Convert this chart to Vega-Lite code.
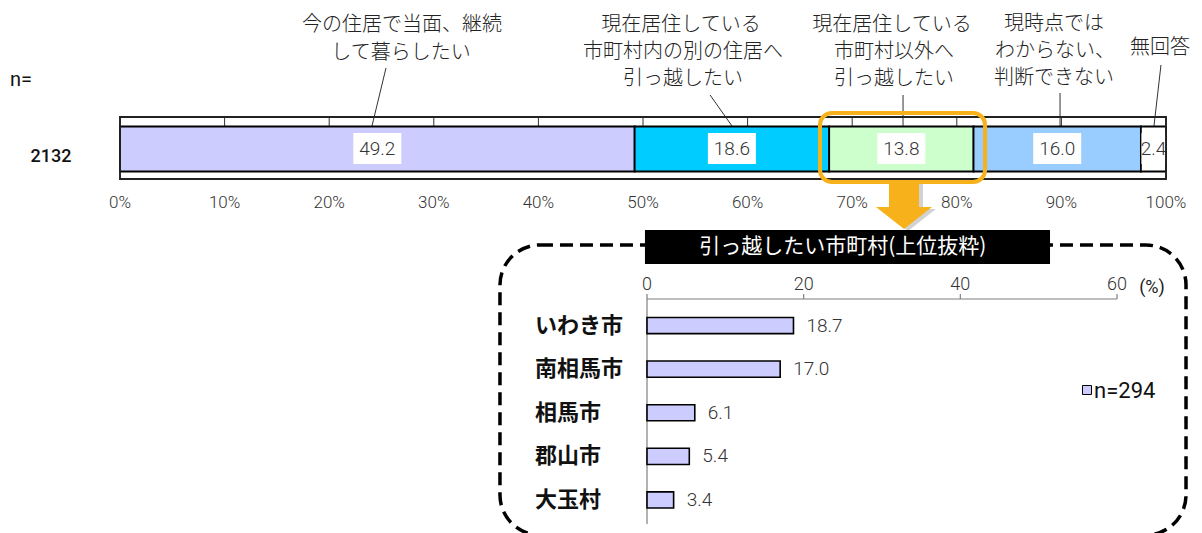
{
  "$schema": "https://vega.github.io/schema/vega-lite/v6.json",
  "width": 1202,
  "height": 533,
  "autosize": {"type": "none"},
  "padding": 0,
  "background": "white",
  "config": {"view": {"stroke": null}, "axis": {"disable": true}, "legend": {"disable": true}},
  "datasets": {
    "answers": [
      {"order": 1, "cat": "今の住居で当面、継続して暮らしたい", "v": 49.2},
      {"order": 2, "cat": "現在居住している市町村内の別の住居へ引っ越したい", "v": 18.6},
      {"order": 3, "cat": "現在居住している市町村以外へ引っ越したい", "v": 13.8},
      {"order": 4, "cat": "現時点ではわからない、判断できない", "v": 16.0},
      {"order": 5, "cat": "無回答", "v": 2.4}
    ],
    "cities": [
      {"city": "いわき市", "v": 18.7},
      {"city": "南相馬市", "v": 17.0},
      {"city": "相馬市", "v": 6.1},
      {"city": "郡山市", "v": 5.4},
      {"city": "大玉村", "v": 3.4}
    ],
    "pctTicks": [
      {"t": 0, "lab": "0%"}, {"t": 10, "lab": "10%"}, {"t": 20, "lab": "20%"}, {"t": 30, "lab": "30%"},
      {"t": 40, "lab": "40%"}, {"t": 50, "lab": "50%"}, {"t": 60, "lab": "60%"}, {"t": 70, "lab": "70%"},
      {"t": 80, "lab": "80%"}, {"t": 90, "lab": "90%"}, {"t": 100, "lab": "100%"}
    ],
    "vTicks": [{"t": 0}, {"t": 20}, {"t": 40}, {"t": 60}],
    "catLabels": [
      {"x": 26.96, "y": 25, "text": "今の住居で当面、継続"},
      {"x": 26.86, "y": 53, "text": "して暮らしたい"},
      {"x": 53.63, "y": 25, "text": "現在居住している"},
      {"x": 53.82, "y": 52, "text": "市町村内の別の住居へ"},
      {"x": 53.82, "y": 79, "text": "引っ越したい"},
      {"x": 73.8, "y": 25, "text": "現在居住している"},
      {"x": 74.0, "y": 52, "text": "市町村以外へ"},
      {"x": 74.0, "y": 79, "text": "引っ越したい"},
      {"x": 89.29, "y": 24, "text": "現時点では"},
      {"x": 89.39, "y": 51, "text": "わからない、"},
      {"x": 89.29, "y": 78, "text": "判断できない"},
      {"x": 99.43, "y": 48, "text": "無回答"}
    ],
    "leaders": [
      {"x": 25.43, "y": 68, "x2": 24.09, "y2": 126},
      {"x": 56.41, "y": 95, "x2": 58.51, "y2": 126},
      {"x": 74.86, "y": 95, "x2": 74.86, "y2": 126},
      {"x": 89.87, "y": 93, "x2": 89.87, "y2": 126},
      {"x": 99.52, "y": 65, "x2": 98.85, "y2": 126}
    ]
  },
  "resolve": {"scale": {"x": "independent", "y": "independent", "fill": "independent"}},
  "layer": [
    {
      "layer": [
        {
          "data": {"values": [{}]},
          "mark": {"type": "rect", "fill": "#FFFFFF", "stroke": "#333333", "strokeWidth": 1.5},
          "encoding": {
            "x": {"datum": 0, "type": "quantitative", "scale": {"domain": [0, 100], "range": [120, 1166], "nice": false, "zero": false}},
            "x2": {"datum": 100},
            "y": {"datum": 117, "type": "quantitative", "scale": {"domain": [0, 533], "range": [0, 533], "nice": false, "zero": false}},
            "y2": {"datum": 179}
          }
        },
        {
          "data": {"name": "pctTicks"},
          "transform": [{"filter": "datum.t > 0 && datum.t < 100"}],
          "mark": {"type": "rule", "stroke": "#333333", "strokeWidth": 1},
          "encoding": {
            "x": {"field": "t", "type": "quantitative", "scale": {"domain": [0, 100], "range": [120, 1166], "nice": false, "zero": false}},
            "y": {"datum": 117, "type": "quantitative", "scale": {"domain": [0, 533], "range": [0, 533], "nice": false, "zero": false}},
            "y2": {"datum": 126}
          }
        },
        {
          "data": {"name": "pctTicks"},
          "mark": {"type": "text", "font": "Roboto", "fontWeight": 300, "fontSize": 17, "color": "#333333", "baseline": "middle", "align": "center"},
          "encoding": {
            "x": {"field": "t", "type": "quantitative", "scale": {"domain": [0, 100], "range": [120, 1166], "nice": false, "zero": false}},
            "y": {"datum": 203, "type": "quantitative", "scale": {"domain": [0, 533], "range": [0, 533], "nice": false, "zero": false}},
            "text": {"field": "lab"}
          }
        },
        {
          "data": {"name": "leaders"},
          "mark": {"type": "rule", "stroke": "#333333", "strokeWidth": 1},
          "encoding": {
            "x": {"field": "x", "type": "quantitative", "scale": {"domain": [0, 100], "range": [120, 1166], "nice": false, "zero": false}},
            "x2": {"field": "x2"},
            "y": {"field": "y", "type": "quantitative", "scale": {"domain": [0, 533], "range": [0, 533], "nice": false, "zero": false}},
            "y2": {"field": "y2"}
          }
        },
        {
          "data": {"name": "catLabels"},
          "mark": {"type": "text", "font": "Noto Sans CJK JP", "fontWeight": 300, "fontSize": 20, "color": "#222222", "baseline": "middle", "align": "center"},
          "encoding": {
            "x": {"field": "x", "type": "quantitative", "scale": {"domain": [0, 100], "range": [120, 1166], "nice": false, "zero": false}},
            "y": {"field": "y", "type": "quantitative", "scale": {"domain": [0, 533], "range": [0, 533], "nice": false, "zero": false}},
            "text": {"field": "text"}
          }
        },
        {
          "data": {"values": [{"lab": "n="}]},
          "mark": {"type": "text", "font": "Roboto", "fontSize": 20, "color": "#111111", "baseline": "middle", "align": "left"},
          "encoding": {
            "x": {"datum": -10.52, "type": "quantitative", "scale": {"domain": [0, 100], "range": [120, 1166], "nice": false, "zero": false}},
            "y": {"datum": 80, "type": "quantitative", "scale": {"domain": [0, 533], "range": [0, 533], "nice": false, "zero": false}},
            "text": {"field": "lab"}
          }
        },
        {
          "data": {"values": [{"n": 2132}]},
          "mark": {"type": "text", "font": "Roboto", "fontSize": 18, "fontWeight": 500, "color": "#111111", "baseline": "middle", "align": "center"},
          "encoding": {
            "x": {"datum": -6.6, "type": "quantitative", "scale": {"domain": [0, 100], "range": [120, 1166], "nice": false, "zero": false}},
            "y": {"datum": 157, "type": "quantitative", "scale": {"domain": [0, 533], "range": [0, 533], "nice": false, "zero": false}},
            "text": {"field": "n"}
          }
        },
        {
          "data": {"name": "answers"},
          "transform": [
            {"stack": "v", "groupby": [], "sort": [{"field": "order", "order": "ascending"}], "as": ["s0", "s1"]}
          ],
          "mark": {"type": "rect", "stroke": "#000000", "strokeWidth": 1.8},
          "encoding": {
            "x": {"field": "s0", "type": "quantitative", "scale": {"domain": [0, 100], "range": [120, 1166], "nice": false, "zero": false}},
            "x2": {"field": "s1"},
            "y": {"datum": 126.5, "type": "quantitative", "scale": {"domain": [0, 533], "range": [0, 533], "nice": false, "zero": false}},
            "y2": {"datum": 171.5},
            "fill": {
              "field": "cat", "type": "nominal", "legend": null,
              "scale": {
                "domain": ["今の住居で当面、継続して暮らしたい", "現在居住している市町村内の別の住居へ引っ越したい", "現在居住している市町村以外へ引っ越したい", "現時点ではわからない、判断できない", "無回答"],
                "range": ["#CCCCFF", "#00CCFF", "#CCFFCC", "#99CCFF", "#FFFFFF"]
              }
            }
          }
        },
        {
          "data": {"name": "answers"},
          "transform": [
            {"stack": "v", "groupby": [], "sort": [{"field": "order", "order": "ascending"}], "as": ["s0", "s1"]},
            {"calculate": "(datum.s0 + datum.s1) / 2", "as": "mid"},
            {"filter": "datum.v >= 5"}
          ],
          "mark": {"type": "point", "shape": "M-1,-0.646L1,-0.646L1,0.646L-1,0.646Z", "filled": true, "fill": "#FFFFFF", "strokeWidth": 0, "opacity": 1, "size": 2304},
          "encoding": {
            "x": {"field": "mid", "type": "quantitative", "scale": {"domain": [0, 100], "range": [120, 1166], "nice": false, "zero": false}},
            "y": {"datum": 148.5, "type": "quantitative", "scale": {"domain": [0, 533], "range": [0, 533], "nice": false, "zero": false}}
          }
        },
        {
          "data": {"name": "answers"},
          "transform": [
            {"stack": "v", "groupby": [], "sort": [{"field": "order", "order": "ascending"}], "as": ["s0", "s1"]},
            {"calculate": "(datum.s0 + datum.s1) / 2", "as": "mid"},
            {"filter": "datum.v < 5"}
          ],
          "mark": {"type": "point", "shape": "M-1,-1.29L1,-1.29L1,1.29L-1,1.29Z", "filled": true, "fill": "#FFFFFF", "strokeWidth": 0, "opacity": 1, "size": 576},
          "encoding": {
            "x": {"field": "mid", "type": "quantitative", "scale": {"domain": [0, 100], "range": [120, 1166], "nice": false, "zero": false}},
            "y": {"datum": 148.5, "type": "quantitative", "scale": {"domain": [0, 533], "range": [0, 533], "nice": false, "zero": false}}
          }
        },
        {
          "data": {"name": "answers"},
          "transform": [
            {"stack": "v", "groupby": [], "sort": [{"field": "order", "order": "ascending"}], "as": ["s0", "s1"]},
            {"calculate": "(datum.s0 + datum.s1) / 2", "as": "mid"}
          ],
          "mark": {"type": "text", "font": "Roboto", "fontWeight": 300, "fontSize": 19, "color": "#333333", "baseline": "middle", "align": "center"},
          "encoding": {
            "x": {"field": "mid", "type": "quantitative", "scale": {"domain": [0, 100], "range": [120, 1166], "nice": false, "zero": false}},
            "y": {"datum": 149, "type": "quantitative", "scale": {"domain": [0, 533], "range": [0, 533], "nice": false, "zero": false}},
            "text": {"field": "v", "type": "quantitative", "format": ".1f"}
          }
        },
        {
          "data": {"values": [{}]},
          "mark": {"type": "rect", "fillOpacity": 0, "stroke": "#222222", "strokeWidth": 1.8},
          "encoding": {
            "x": {"datum": 0, "type": "quantitative", "scale": {"domain": [0, 100], "range": [120, 1166], "nice": false, "zero": false}},
            "x2": {"datum": 100},
            "y": {"datum": 117, "type": "quantitative", "scale": {"domain": [0, 533], "range": [0, 533], "nice": false, "zero": false}},
            "y2": {"datum": 179}
          }
        },
        {
          "data": {"values": [{}]},
          "mark": {"type": "rect", "fillOpacity": 0, "stroke": "#F7B21B", "strokeWidth": 4, "cornerRadius": 12},
          "encoding": {
            "x": {"datum": 66.92, "type": "quantitative", "scale": {"domain": [0, 100], "range": [120, 1166], "nice": false, "zero": false}},
            "x2": {"datum": 82.7},
            "y": {"datum": 113, "type": "quantitative", "scale": {"domain": [0, 533], "range": [0, 533], "nice": false, "zero": false}},
            "y2": {"datum": 182}
          }
        },
        {
          "data": {"values": [{}]},
          "mark": {"type": "point", "shape": "M-0.536,-0.84L0.536,-0.84L0.536,0.054L1,0.054L0,0.84L-1,0.054L-0.536,0.054Z", "filled": true, "fill": "#7F7F7F", "opacity": 0.35, "strokeWidth": 0, "size": 3136, "xOffset": 4, "yOffset": 2},
          "encoding": {
            "x": {"datum": 74.95, "type": "quantitative", "scale": {"domain": [0, 100], "range": [120, 1166], "nice": false, "zero": false}},
            "y": {"datum": 205.5, "type": "quantitative", "scale": {"domain": [0, 533], "range": [0, 533], "nice": false, "zero": false}}
          }
        },
        {
          "data": {"values": [{}]},
          "mark": {"type": "point", "shape": "M-0.536,-0.84L0.536,-0.84L0.536,0.054L1,0.054L0,0.84L-1,0.054L-0.536,0.054Z", "filled": true, "fill": "#F7B21B", "opacity": 1, "strokeWidth": 0, "size": 3136},
          "encoding": {
            "x": {"datum": 74.95, "type": "quantitative", "scale": {"domain": [0, 100], "range": [120, 1166], "nice": false, "zero": false}},
            "y": {"datum": 205.5, "type": "quantitative", "scale": {"domain": [0, 533], "range": [0, 533], "nice": false, "zero": false}}
          }
        }
      ]
    },
    {
      "layer": [
        {
          "data": {"values": [{}]},
          "mark": {"type": "rect", "fillOpacity": 0, "stroke": "#000000", "strokeWidth": 3.5, "strokeDash": [13, 7], "cornerRadius": 40},
          "encoding": {
            "x": {"datum": -18.77, "type": "quantitative", "scale": {"domain": [0, 60], "range": [647, 1117], "nice": false, "zero": false}},
            "x2": {"datum": 68.81},
            "y": {"datum": 245, "type": "quantitative", "scale": {"domain": [0, 533], "range": [0, 533], "nice": false, "zero": false}},
            "y2": {"datum": 535}
          }
        },
        {
          "data": {"values": [{}]},
          "mark": {"type": "rect", "fill": "#000000"},
          "encoding": {
            "x": {"datum": -0.26, "type": "quantitative", "scale": {"domain": [0, 60], "range": [647, 1117], "nice": false, "zero": false}},
            "x2": {"datum": 51.45},
            "y": {"datum": 230, "type": "quantitative", "scale": {"domain": [0, 533], "range": [0, 533], "nice": false, "zero": false}},
            "y2": {"datum": 264}
          }
        },
        {
          "data": {"values": [{"title": "引っ越したい市町村(上位抜粋)"}]},
          "mark": {"type": "text", "font": "Noto Sans CJK JP", "fontSize": 21, "color": "#FFFFFF", "baseline": "middle", "align": "center"},
          "encoding": {
            "x": {"datum": 25.0, "type": "quantitative", "scale": {"domain": [0, 60], "range": [647, 1117], "nice": false, "zero": false}},
            "y": {"datum": 247, "type": "quantitative", "scale": {"domain": [0, 533], "range": [0, 533], "nice": false, "zero": false}},
            "text": {"field": "title"}
          }
        },
        {
          "data": {"values": [{}]},
          "mark": {"type": "rule", "stroke": "#7F7F7F", "strokeWidth": 1.2},
          "encoding": {
            "x": {"datum": 0, "type": "quantitative", "scale": {"domain": [0, 60], "range": [647, 1117], "nice": false, "zero": false}},
            "x2": {"datum": 60},
            "y": {"datum": 299, "type": "quantitative", "scale": {"domain": [0, 533], "range": [0, 533], "nice": false, "zero": false}}
          }
        },
        {
          "data": {"name": "vTicks"},
          "mark": {"type": "rule", "stroke": "#7F7F7F", "strokeWidth": 1.2},
          "encoding": {
            "x": {"field": "t", "type": "quantitative", "scale": {"domain": [0, 60], "range": [647, 1117], "nice": false, "zero": false}},
            "y": {"datum": 294, "type": "quantitative", "scale": {"domain": [0, 533], "range": [0, 533], "nice": false, "zero": false}},
            "y2": {"datum": 299}
          }
        },
        {
          "data": {"values": [{}]},
          "mark": {"type": "rule", "stroke": "#7F7F7F", "strokeWidth": 1.2},
          "encoding": {
            "x": {"datum": 0, "type": "quantitative", "scale": {"domain": [0, 60], "range": [647, 1117], "nice": false, "zero": false}},
            "y": {"datum": 299, "type": "quantitative", "scale": {"domain": [0, 533], "range": [0, 533], "nice": false, "zero": false}},
            "y2": {"datum": 524}
          }
        },
        {
          "data": {"name": "vTicks"},
          "mark": {"type": "text", "font": "Roboto", "fontWeight": 300, "fontSize": 18, "color": "#333333", "baseline": "middle", "align": "center"},
          "encoding": {
            "x": {"field": "t", "type": "quantitative", "scale": {"domain": [0, 60], "range": [647, 1117], "nice": false, "zero": false}},
            "y": {"datum": 285, "type": "quantitative", "scale": {"domain": [0, 533], "range": [0, 533], "nice": false, "zero": false}},
            "text": {"field": "t", "type": "quantitative"}
          }
        },
        {
          "data": {"values": [{"u": "(%)"}]},
          "mark": {"type": "text", "font": "Roboto", "fontSize": 18, "color": "#222222", "baseline": "middle", "align": "center"},
          "encoding": {
            "x": {"datum": 64.47, "type": "quantitative", "scale": {"domain": [0, 60], "range": [647, 1117], "nice": false, "zero": false}},
            "y": {"datum": 288, "type": "quantitative", "scale": {"domain": [0, 533], "range": [0, 533], "nice": false, "zero": false}},
            "text": {"field": "u"}
          }
        },
        {
          "data": {"values": [{}]},
          "mark": {"type": "point", "shape": "square", "filled": true, "fill": "#CCCCFF", "stroke": "#000000", "strokeWidth": 1, "opacity": 1, "size": 81},
          "encoding": {
            "x": {"datum": 56.17, "type": "quantitative", "scale": {"domain": [0, 60], "range": [647, 1117], "nice": false, "zero": false}},
            "y": {"datum": 390, "type": "quantitative", "scale": {"domain": [0, 533], "range": [0, 533], "nice": false, "zero": false}}
          }
        },
        {
          "data": {"values": [{"lab": "n=294"}]},
          "mark": {"type": "text", "font": "Roboto", "fontSize": 22, "color": "#111111", "baseline": "middle", "align": "left"},
          "encoding": {
            "x": {"datum": 57.07, "type": "quantitative", "scale": {"domain": [0, 60], "range": [647, 1117], "nice": false, "zero": false}},
            "y": {"datum": 391, "type": "quantitative", "scale": {"domain": [0, 533], "range": [0, 533], "nice": false, "zero": false}},
            "text": {"field": "lab"}
          }
        }
      ]
    },
    {
      "data": {"name": "cities"},
      "layer": [
        {
          "mark": {"type": "bar", "fill": "#CCCCFF", "stroke": "#000000", "strokeWidth": 1.6},
          "encoding": {
            "x": {"field": "v", "type": "quantitative", "scale": {"domain": [0, 60], "range": [647, 1117], "nice": false, "zero": false}},
            "y": {"field": "city", "type": "nominal", "sort": null, "scale": {"type": "band", "domain": ["いわき市", "南相馬市", "相馬市", "郡山市", "大玉村"], "range": [303.7, 521.8], "paddingInner": 0.63, "paddingOuter": 0.315}}
          }
        },
        {
          "mark": {"type": "text", "font": "Roboto", "fontWeight": 300, "fontSize": 19, "color": "#333333", "baseline": "middle", "align": "left", "dx": 13},
          "encoding": {
            "x": {"field": "v", "type": "quantitative", "scale": {"domain": [0, 60], "range": [647, 1117], "nice": false, "zero": false}},
            "y": {"field": "city", "type": "nominal", "sort": null, "scale": {"type": "band", "domain": ["いわき市", "南相馬市", "相馬市", "郡山市", "大玉村"], "range": [303.7, 521.8], "paddingInner": 0.63, "paddingOuter": 0.315}},
            "text": {"field": "v", "type": "quantitative", "format": ".1f"}
          }
        },
        {
          "mark": {"type": "text", "font": "Noto Sans CJK JP", "fontSize": 22, "fontWeight": "bold", "color": "#111111", "baseline": "middle", "align": "left"},
          "encoding": {
            "x": {"datum": -14.3, "type": "quantitative", "scale": {"domain": [0, 60], "range": [647, 1117], "nice": false, "zero": false}},
            "y": {"field": "city", "type": "nominal", "sort": null, "scale": {"type": "band", "domain": ["いわき市", "南相馬市", "相馬市", "郡山市", "大玉村"], "range": [303.7, 521.8], "paddingInner": 0.63, "paddingOuter": 0.315}},
            "text": {"field": "city"}
          }
        }
      ]
    }
  ]
}
